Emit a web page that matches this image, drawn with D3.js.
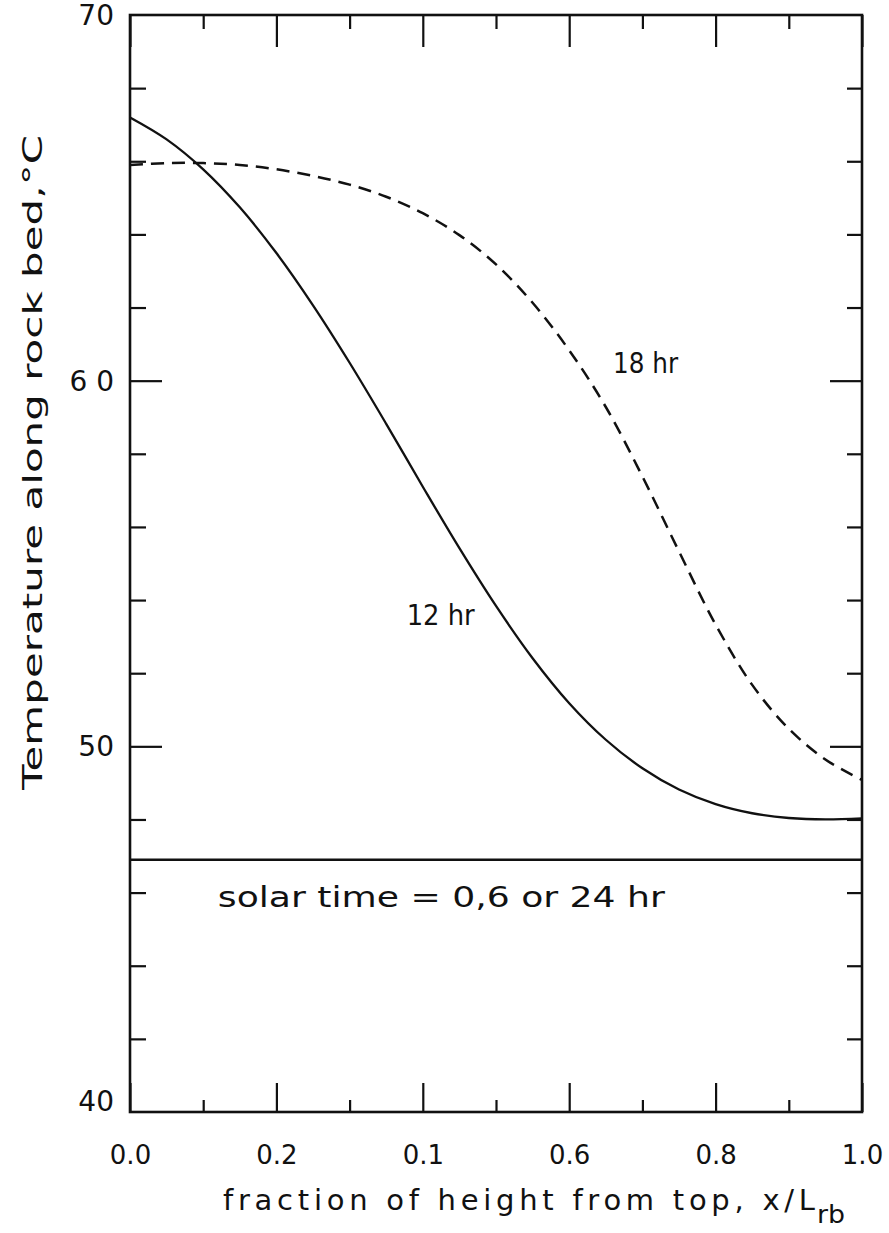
<!DOCTYPE html>
<html>
<head>
<meta charset="utf-8">
<title>Rock bed temperature</title>
<script src="https://cdn.jsdelivr.net/npm/d3@7"></script>
<style>
  body { margin: 0; background: #fff; }
  text { font-family: "DejaVu Sans", sans-serif; fill: #111; }
</style>
</head>
<body>
<svg id="chart" width="889" height="1233"></svg>
<script>
// curve readings: fraction of height from top, temperature (°C)
const positions = [0, 0.05, 0.1, 0.15, 0.2, 0.25, 0.3, 0.35, 0.4, 0.45, 0.5, 0.55, 0.6, 0.65, 0.7, 0.75, 0.8, 0.85, 0.9, 0.95, 1.0];
const temp12 = [67.2, 66.6, 65.78, 64.74, 63.49, 62.06, 60.49, 58.82, 57.1, 55.42, 53.84, 52.41, 51.18, 50.18, 49.4, 48.82, 48.42, 48.17, 48.04, 48.0, 48.03];
const temp18 = [65.9, 65.95, 65.95, 65.9, 65.78, 65.6, 65.36, 65.03, 64.58, 63.98, 63.18, 62.13, 60.83, 59.28, 57.38, 55.33, 53.33, 51.68, 50.48, 49.64, 49.08];
const temp24 = 46.9; // 0, 6 or 24 hr: flat line

const xTicks = [0, 0.1, 0.2, 0.3, 0.4, 0.5, 0.6, 0.7, 0.8, 0.9, 1.0];
const xMajor = [0, 0.2, 0.4, 0.6, 0.8, 1.0];
const xTickLabels = ["0.0", "0.2", "0.1", "0.6", "0.8", "1.0"];
const yTicks = [42, 44, 46, 48, 50, 52, 54, 56, 58, 60, 62, 64, 66, 68];
const yMajor = [50, 60];
const yLabelValues = [40, 50, 60, 70];
const yTickLabels = ["40", "50", "6 0", "70"];

const notes = [
  { text: "12 hr", x: 0.378, t: 53.32, len: 68 },
  { text: "18 hr", x: 0.66, t: 60.21, len: 65 },
  { text: "solar time = 0,6 or 24 hr", x: 0.12, t: 45.61, len: 447 }
];

const svg = d3.select('#chart');
const x = d3.scaleLinear().domain([0, 1]).range([130, 862]);
const y = d3.scaleLinear().domain([40, 70]).range([1112, 15]);

const isMajorX = d => xMajor.some(m => Math.abs(m - d) < 1e-6);
const isMajorY = d => yMajor.includes(d);

// bottom axis
const gBottom = svg.append('g')
  .attr('transform', `translate(0,${y(40)})`)
  .call(d3.axisBottom(x).tickValues(xTicks).tickSize(0).tickPadding(34)
    .tickFormat(d => isMajorX(d) ? xTickLabels[xMajor.findIndex(m => Math.abs(m - d) < 1e-6)] : ""));
gBottom.selectAll('.tick line').attr('y2', d => isMajorX(d) ? -29 : -12);

// top axis
const gTop = svg.append('g')
  .attr('transform', `translate(0,${y(70)})`)
  .call(d3.axisTop(x).tickValues(xTicks).tickSize(0).tickFormat(""));
gTop.selectAll('.tick line').attr('y2', d => isMajorX(d) ? 32 : 14);

// left axis
const gLeft = svg.append('g')
  .attr('transform', `translate(${x(0)},0)`)
  .call(d3.axisLeft(y).tickValues(yTicks).tickSize(0).tickFormat(""));
gLeft.selectAll('.tick line').attr('x2', d => isMajorY(d) ? 32 : 16);

// right axis
const gRight = svg.append('g')
  .attr('transform', `translate(${x(1)},0)`)
  .call(d3.axisRight(y).tickValues(yTicks).tickSize(0).tickFormat(""));
gRight.selectAll('.tick line').attr('x2', d => isMajorY(d) ? -32 : -15);

svg.selectAll('.domain').remove();
svg.selectAll('.tick line').attr('stroke', '#111').attr('stroke-width', 2.2);
gBottom.selectAll('.tick text').attr('font-size', 26).attr('font-family', 'DejaVu Sans').attr('fill', '#111');

// y labels
svg.append('g').selectAll('text').data(yLabelValues).join('text')
  .attr('x', x(0) - 16)
  .attr('y', (d, i) => y(d) + (d === 40 ? -1 : 10))
  .attr('text-anchor', 'end')
  .attr('font-size', 28)
  .text((d, i) => yTickLabels[i]);

// frame
svg.append('rect')
  .attr('x', x(0)).attr('y', y(70))
  .attr('width', x(1) - x(0)).attr('height', y(40) - y(70))
  .attr('fill', 'none').attr('stroke', '#111').attr('stroke-width', 2.6);

const line = d3.line().x(d => x(d[0])).y(d => y(d[1])).curve(d3.curveCatmullRom.alpha(0.5));

svg.append('path')
  .datum(positions.map((p, i) => [p, temp12[i]]))
  .attr('d', line)
  .attr('fill', 'none').attr('stroke', '#111').attr('stroke-width', 2.3);

svg.append('path')
  .datum(positions.map((p, i) => [p, temp18[i]]))
  .attr('d', line)
  .attr('fill', 'none').attr('stroke', '#111').attr('stroke-width', 2.5)
  .attr('stroke-dasharray', '13,8');

svg.append('path')
  .datum([[0, temp24], [1, temp24]])
  .attr('d', line)
  .attr('fill', 'none').attr('stroke', '#111').attr('stroke-width', 2.5);

// annotations
svg.append('g').selectAll('text').data(notes).join('text')
  .attr('x', d => x(d.x))
  .attr('y', d => y(d.t))
  .attr('font-size', 28)
  .attr('textLength', d => d.len)
  .attr('lengthAdjust', 'spacingAndGlyphs')
  .text(d => d.text);

// axis titles
svg.append('text')
  .attr('transform', 'translate(42,790) rotate(-90)')
  .attr('font-size', 27)
  .attr('textLength', 655)
  .attr('lengthAdjust', 'spacingAndGlyphs')
  .text('Temperature along rock bed,°C');

svg.append('text')
  .attr('x', 223).attr('y', 1210)
  .attr('font-size', 29)
  .attr('textLength', 592)
  .attr('lengthAdjust', 'spacing')
  .text('fraction of height from top, x/L');

svg.append('text')
  .attr('x', 817).attr('y', 1223)
  .attr('font-size', 25)
  .attr('textLength', 28)
  .attr('lengthAdjust', 'spacingAndGlyphs')
  .text('rb');
</script>
</body>
</html>
